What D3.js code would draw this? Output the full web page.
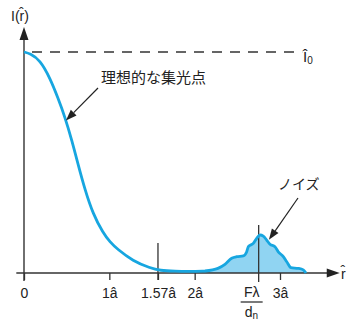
<!DOCTYPE html>
<html><head><meta charset="utf-8">
<script src="https://cdn.jsdelivr.net/npm/d3@7/dist/d3.min.js"></script>
<style>
html,body{margin:0;padding:0;background:#fff;}
svg{display:block;font-family:"Liberation Sans",Arial,sans-serif;}
</style></head>
<body>
<svg id="c" width="349" height="323"></svg>
<script>
// ---- data (x in units of â, y relative to Î0) ----
const mainX = [0, 0.070, 0.1875, 0.305, 0.398, 0.48, 0.563, 0.633, 0.715, 0.809, 0.926, 1.008, 1.090, 1.277, 1.477, 1.594, 1.770, 1.945, 2.121];
const mainY = [1.0, 0.993, 0.964, 0.882, 0.792, 0.706, 0.597, 0.493, 0.376, 0.267, 0.181, 0.140, 0.109, 0.054, 0.023, 0.011, 0.008, 0.007, 0.009];
const noiseX = [2.121, 2.273, 2.355, 2.434, 2.493, 2.570, 2.610, 2.629, 2.687, 2.727, 2.766, 2.804, 2.844, 2.883, 2.941, 2.980, 3.039, 3.079, 3.129, 3.215, 3.273, 3.305];
const noiseY = [0.009, 0.021, 0.039, 0.067, 0.074, 0.077, 0.096, 0.119, 0.134, 0.157, 0.172, 0.167, 0.149, 0.130, 0.119, 0.096, 0.074, 0.051, 0.024, 0.021, 0.014, 0.0];
const tickValues = [0, 1, 1.57, 2, 3];
const tickLabels = ["0", "1â", "1.57â", "2â", "3â"];
const markFirstZero = 1.57;
const markFraction = 2.75;
const refLevel = 1.0;
const labelIdeal = "理想的な集光点";
const labelNoise = "ノイズ";

const svg = d3.select("#c");
const x = d3.scaleLinear().domain([0, 3]).range([24, 280]);
const y = d3.scaleLinear().domain([0, 1]).range([273, 52]);
const axisColor = "#333";
const lineColor = "#17a6e0";
const fillColor = "#90d4f2";

// noise fill
const noisePts = noiseX.map((d, i) => [d, noiseY[i]]);
const fillPts = [[1.945, 0.007]].concat(noisePts);
svg.append("path")
  .attr("d", d3.area().x(d => x(d[0])).y0(y(0)).y1(d => y(d[1])).curve(d3.curveMonotoneX)(fillPts))
  .attr("fill", fillColor);

// reference dashed line
svg.append("line")
  .attr("x1", x(0)).attr("x2", x(3.26)).attr("y1", y(refLevel)).attr("y2", y(refLevel))
  .attr("stroke", axisColor).attr("stroke-width", 1.3).attr("stroke-dasharray", "10,8")
  .attr("stroke-dashoffset", -8);

// axes
const g = svg.append("g").attr("transform", `translate(0,${y(0)})`);
const ax = d3.axisBottom(x).tickValues(tickValues).tickFormat((d, i) => tickLabels[i]).tickSize(7).tickPadding(8);
g.call(ax);
g.select(".domain").remove();
g.selectAll(".tick line").attr("stroke", axisColor).attr("stroke-width", 1.3);
g.selectAll(".tick text").attr("fill", "#222").style("font-size", "14px")
  .style("font-family", '"Liberation Sans",Arial,sans-serif');

// x axis line + arrow
const xEnd = x(3.7);
svg.append("line").attr("x1", x(-0.09)).attr("x2", xEnd - 10).attr("y1", y(0)).attr("y2", y(0))
  .attr("stroke", axisColor).attr("stroke-width", 1.4);
svg.append("path").attr("d", `M${xEnd},${y(0)} L${xEnd - 13},${y(0) - 4.5} L${xEnd - 13},${y(0) + 4.5} Z`).attr("fill", "#222");
// y axis line + arrow
const yEnd = y(1.113);
svg.append("line").attr("x1", x(0)).attr("x2", x(0)).attr("y1", y(0) + 8).attr("y2", yEnd + 10)
  .attr("stroke", axisColor).attr("stroke-width", 1.4);
svg.append("path").attr("d", `M${x(0)},${yEnd} L${x(0) - 4.5},${yEnd + 13} L${x(0) + 4.5},${yEnd + 13} Z`).attr("fill", "#222");

// vertical markers
svg.append("line").attr("x1", x(markFirstZero)).attr("x2", x(markFirstZero)).attr("y1", y(0.136)).attr("y2", y(0) + 7)
  .attr("stroke", axisColor).attr("stroke-width", 1.3);
svg.append("line").attr("x1", x(markFraction)).attr("x2", x(markFraction)).attr("y1", y(0.217)).attr("y2", y(0) + 9)
  .attr("stroke", axisColor).attr("stroke-width", 1.3);

// curve line (smooth main lobe + noise bump)
const mainPts = mainX.map((d, i) => [d, mainY[i]]);
const line = d3.line().x(d => x(d[0])).y(d => y(d[1]));
const mainD = line.curve(d3.curveBasis)(mainPts);
const noiseD = line.curve(d3.curveMonotoneX)(noisePts);
svg.append("path")
  .attr("d", mainD + noiseD.replace(/^M[^CLZ]*/, m => "L" + m.slice(1)))
  .attr("fill", "none").attr("stroke", lineColor).attr("stroke-width", 2.8).attr("stroke-linejoin", "round");

// labels
svg.append("text").attr("x", 11).attr("y", 21).style("font-size", "14px").attr("fill", "#222").text("I(r̂)");
svg.append("text").attr("x", 341).attr("y", 279).style("font-size", "14px").attr("fill", "#222").text("r̂");
const i0 = svg.append("text").attr("x", 303).attr("y", 62).style("font-size", "15px").attr("fill", "#222");
i0.append("tspan").text("Î");
i0.append("tspan").attr("dy", 2).style("font-size", "10px").text("0");

// fraction label
const fx = x(markFraction) - 7;
svg.append("text").attr("x", fx).attr("y", 297).attr("text-anchor", "middle").style("font-size", "14px").attr("fill", "#222").text("Fλ");
svg.append("line").attr("x1", fx - 11).attr("x2", fx + 11).attr("y1", 302).attr("y2", 302).attr("stroke", "#222").attr("stroke-width", 1.2);
const dn = svg.append("text").attr("x", fx - 7).attr("y", 317).style("font-size", "14px").attr("fill", "#222");
dn.append("tspan").text("d");
dn.append("tspan").attr("dy", 2).style("font-size", "10px").text("n");

// annotations
function arrow(x1, y1, x2, y2) {
  const a = Math.atan2(y2 - y1, x2 - x1), L = 11, W = 4;
  const bx = x2 - L * Math.cos(a), by = y2 - L * Math.sin(a);
  svg.append("line").attr("x1", x1).attr("y1", y1).attr("x2", bx).attr("y2", by).attr("stroke", "#222").attr("stroke-width", 1.2);
  svg.append("path").attr("d", `M${x2},${y2} L${bx + W * Math.sin(a)},${by - W * Math.cos(a)} L${bx - W * Math.sin(a)},${by + W * Math.cos(a)} Z`).attr("fill", "#222");
}
svg.append("text").attr("x", 101).attr("y", 83).style("font-size", "15px")
  .style("font-family", '"Noto Sans CJK JP",sans-serif').attr("fill", "#222").text(labelIdeal);
arrow(98, 88, x(0.48) + 1, y(0.69));
svg.append("text").attr("x", 278).attr("y", 189).style("font-size", "14px")
  .style("font-family", '"Noto Sans CJK JP",sans-serif').attr("fill", "#222").text(labelNoise);
arrow(298, 198, x(2.87), y(0.15));
</script>
</body></html>
